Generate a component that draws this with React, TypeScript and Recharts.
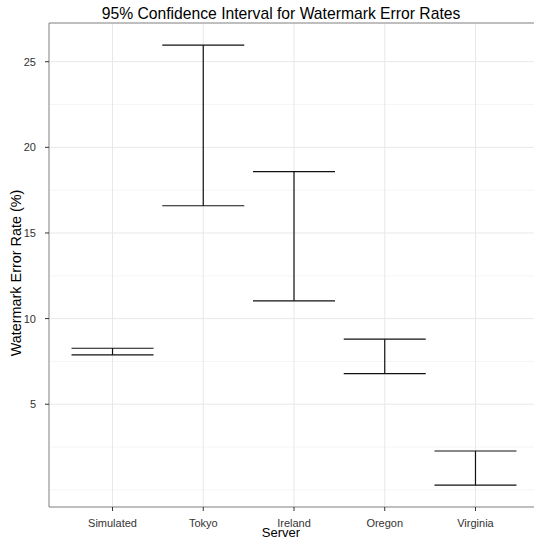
import {
  ScatterChart,
  Scatter,
  ErrorBar,
  XAxis,
  YAxis,
  CartesianGrid,
  ReferenceLine,
  Label,
} from "recharts";

const servers = ["Simulated", "Tokyo", "Ireland", "Oregon", "Virginia"];
const lowerCI = [7.88, 16.59, 11.04, 6.79, 0.28];
const upperCI = [8.27, 25.97, 18.58, 8.8, 2.27];

const yMajorTicks = [5, 10, 15, 20, 25];
const yMinorLines = [0, 2.5, 7.5, 12.5, 17.5, 22.5];
const xTicks = [1, 2, 3, 4, 5];
const yDomain: [number, number] = [-1.0, 27.26];
const xDomain: [number, number] = [0.3, 5.7];

const font = "'Liberation Sans', Arial, Helvetica, sans-serif";

const data = servers.map((name, i) => {
  const mid = (lowerCI[i] + upperCI[i]) / 2;
  return {
    name,
    x: i + 1,
    mid,
    err: [mid - lowerCI[i], upperCI[i] - mid],
  };
});

export default function App() {
  return (
    <div
      style={{
        position: "absolute",
        left: 0,
        top: 0,
        width: 534,
        height: 541,
        overflow: "hidden",
        background: "#fff",
        fontFamily: font,
      }}
    >
      <div
        style={{
          position: "absolute",
          top: 6,
          left: 0,
          width: 562,
          textAlign: "center",
          fontSize: 15.7,
          lineHeight: "16px",
          color: "#000",
          whiteSpace: "nowrap",
        }}
      >
        95% Confidence Interval for Watermark Error Rates
      </div>
      <div style={{ position: "absolute", left: 0, top: 0 }}>
        <ScatterChart
          width={539}
          height={541}
          margin={{ top: 23, right: 0, bottom: 0, left: 0 }}
        >
          <CartesianGrid
            horizontalValues={yMinorLines}
            vertical={false}
            stroke="#f5f5f5"
            strokeWidth={1}
          />
          <CartesianGrid stroke="#e8e8e8" strokeWidth={1} />
          <XAxis
            type="number"
            dataKey="x"
            domain={xDomain}
            ticks={xTicks}
            interval={0}
            tickFormatter={(v) => servers[v - 1]}
            height={34}
            tickSize={4}
            tickMargin={8}
            stroke="#8a8a8a"
            tickLine={{ stroke: "#333" }}
            tick={{ fontSize: 11, fill: "#333", fontFamily: font }}
          >
            <Label
              content={() => (
                <text
                  x={281}
                  y={537}
                  textAnchor="middle"
                  fontSize={13}
                  fill="#000"
                  fontFamily={font}
                >
                  Server
                </text>
              )}
            />
          </XAxis>
          <YAxis
            type="number"
            dataKey="mid"
            domain={yDomain}
            ticks={yMajorTicks}
            interval={0}
            width={49}
            tickSize={4}
            tickMargin={9}
            stroke="#8a8a8a"
            tickLine={{ stroke: "#333" }}
            tick={{ fontSize: 11, fill: "#333", fontFamily: font }}
          >
            <Label
              content={() => (
                <text
                  x={20.5}
                  y={273}
                  transform="rotate(-90 20.5 273)"
                  textAnchor="middle"
                  fontSize={14.4}
                  fill="#000"
                  fontFamily={font}
                >
                  Watermark Error Rate (%)
                </text>
              )}
            />
          </YAxis>
          <ReferenceLine y={yDomain[1]} stroke="#8a8a8a" ifOverflow="visible" />
          <Scatter
            data={data}
            isAnimationActive={false}
            shape={() => <g />}
          >
            <ErrorBar
              dataKey="err"
              direction="y"
              width={41}
              stroke="#111"
              strokeWidth={1.2}
              isAnimationActive={false}
            />
          </Scatter>
        </ScatterChart>
      </div>
    </div>
  );
}
